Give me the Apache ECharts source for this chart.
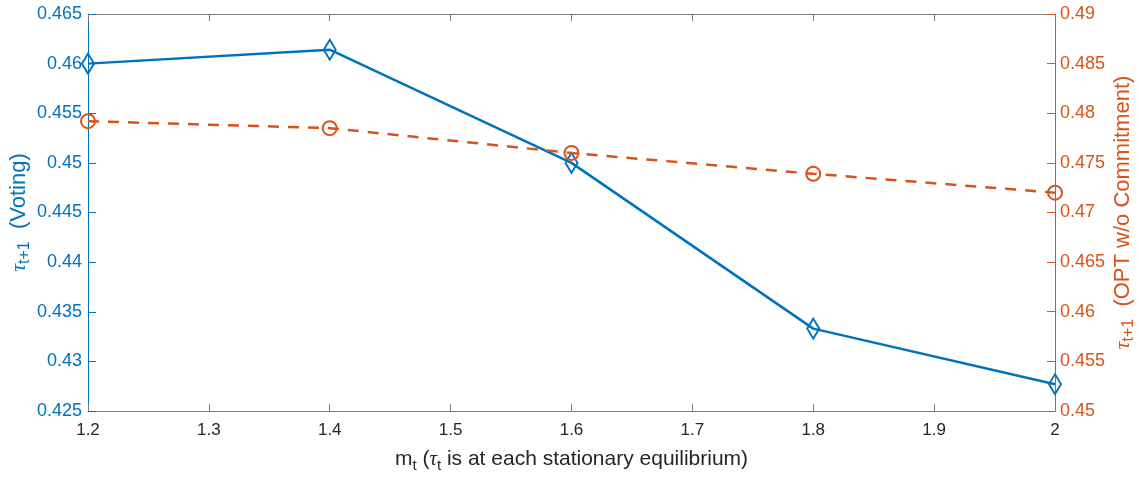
<!DOCTYPE html>
<html>
<head>
<meta charset="utf-8">
<script src="https://cdn.jsdelivr.net/npm/echarts@6/dist/echarts.min.js"></script>
<style>html,body{margin:0;padding:0;background:#fff;}#c{width:1139px;height:480px;}</style>
</head>
<body>
<div id="c"></div>
<script>
var mValues = [1.2, 1.4, 1.6, 1.8, 2.0];
var votingValues = [0.4600, 0.4614, 0.4500, 0.4333, 0.4277];
var optValues = [0.4792, 0.4785, 0.4760, 0.4739, 0.4720];
var xTicks = {min: 1.2, max: 2.0, interval: 0.1};
var leftTicks = {min: 0.425, max: 0.465, interval: 0.005};
var rightTicks = {min: 0.45, max: 0.49, interval: 0.005};

var BLUE = '#0072BD', ORANGE = '#D95319', DARK = '#262626', BOX = '#7a7a7a';
var FONT = '"Liberation Sans", Arial, Helvetica, sans-serif';

function fmt(v) { return String(Number(v.toFixed(4))); }
function pairs(xs, ys) { return xs.map(function (x, i) { return [x, ys[i]]; }); }

function nameRich(color, size, subSize, pad) {
  return {
    n: {fontSize: size, color: color, fontFamily: FONT},
    tau: {fontSize: size, color: color, fontFamily: '"Liberation Serif", serif', fontStyle: 'italic'},
    sub: {fontSize: subSize, color: color, fontFamily: FONT, padding: [pad, 0, 0, 0]}
  };
}

var chart = echarts.init(document.getElementById('c'), null, {renderer: 'canvas'});
chart.setOption({
  animation: false,
  backgroundColor: '#fff',
  grid: {left: 88, right: 84, top: 14, bottom: 69, show: false, containLabel: false, outerBoundsMode: 'none'},
  xAxis: [{
    type: 'value', min: xTicks.min, max: xTicks.max, interval: xTicks.interval,
    position: 'bottom',
    axisLine: {show: true, lineStyle: {color: BOX, width: 1}},
    axisTick: {show: true, inside: true, length: 7, lineStyle: {color: BOX}},
    axisLabel: {color: DARK, fontSize: 17, fontFamily: FONT, margin: 11, formatter: fmt},
    splitLine: {show: false},
    name: '{n|m}{sub|t}{n| (}{tau|τ}{sub|t}{n| is at each stationary equilibrium)}',
    nameLocation: 'middle', nameGap: 35, nameMoveOverlap: false,
    nameTextStyle: {rich: nameRich(DARK, 21, 15, 12)}
  }, {
    type: 'value', min: xTicks.min, max: xTicks.max, interval: xTicks.interval,
    position: 'top',
    axisLine: {show: true, lineStyle: {color: BOX, width: 1}},
    axisTick: {show: true, inside: true, length: 7, lineStyle: {color: BOX}},
    axisLabel: {show: false},
    splitLine: {show: false}
  }],
  yAxis: [{
    type: 'value', min: leftTicks.min, max: leftTicks.max, interval: leftTicks.interval,
    position: 'left',
    axisLine: {show: true, lineStyle: {color: BLUE, width: 1}},
    axisTick: {show: true, inside: true, length: 8, lineStyle: {color: BLUE}},
    axisLabel: {color: BLUE, fontSize: 18, fontFamily: FONT, margin: 6, formatter: fmt},
    splitLine: {show: false},
    name: '{tau|τ}{sub|t+1}{n|  (Voting)}',
    nameLocation: 'middle', nameGap: 55, nameRotate: 90, nameMoveOverlap: false,
    nameTextStyle: {rich: nameRich(BLUE, 22, 16, 12)}
  }, {
    type: 'value', min: rightTicks.min, max: rightTicks.max, interval: rightTicks.interval,
    position: 'right',
    axisLine: {show: true, lineStyle: {color: ORANGE, width: 1}},
    axisTick: {show: true, inside: true, length: 8, lineStyle: {color: ORANGE}},
    axisLabel: {color: ORANGE, fontSize: 18, fontFamily: FONT, margin: 5, formatter: fmt},
    splitLine: {show: false},
    name: '{tau|τ}{sub|t+1}{n|  (OPT w/o Commitment)}',
    nameLocation: 'middle', nameGap: 54, nameRotate: 90, nameMoveOverlap: false,
    nameTextStyle: {rich: nameRich(ORANGE, 22, 16, 12)}
  }],
  series: [{
    type: 'line', xAxisIndex: 0, yAxisIndex: 0,
    data: pairs(mValues, votingValues),
    symbol: 'diamond', symbolSize: [12, 20], showAllSymbol: true,
    lineStyle: {color: BLUE, width: 2.5},
    itemStyle: {color: 'rgba(255,255,255,0)', borderColor: BLUE, borderWidth: 2},
    clip: false, z: 3
  }, {
    type: 'line', xAxisIndex: 0, yAxisIndex: 1,
    data: pairs(mValues, optValues),
    symbol: 'circle', symbolSize: 14, showAllSymbol: true,
    lineStyle: {color: ORANGE, width: 2.5, type: [11, 9], cap: 'butt'},
    itemStyle: {color: 'rgba(255,255,255,0)', borderColor: ORANGE, borderWidth: 2},
    clip: false, z: 4
  }]
});
</script>
</body>
</html>
